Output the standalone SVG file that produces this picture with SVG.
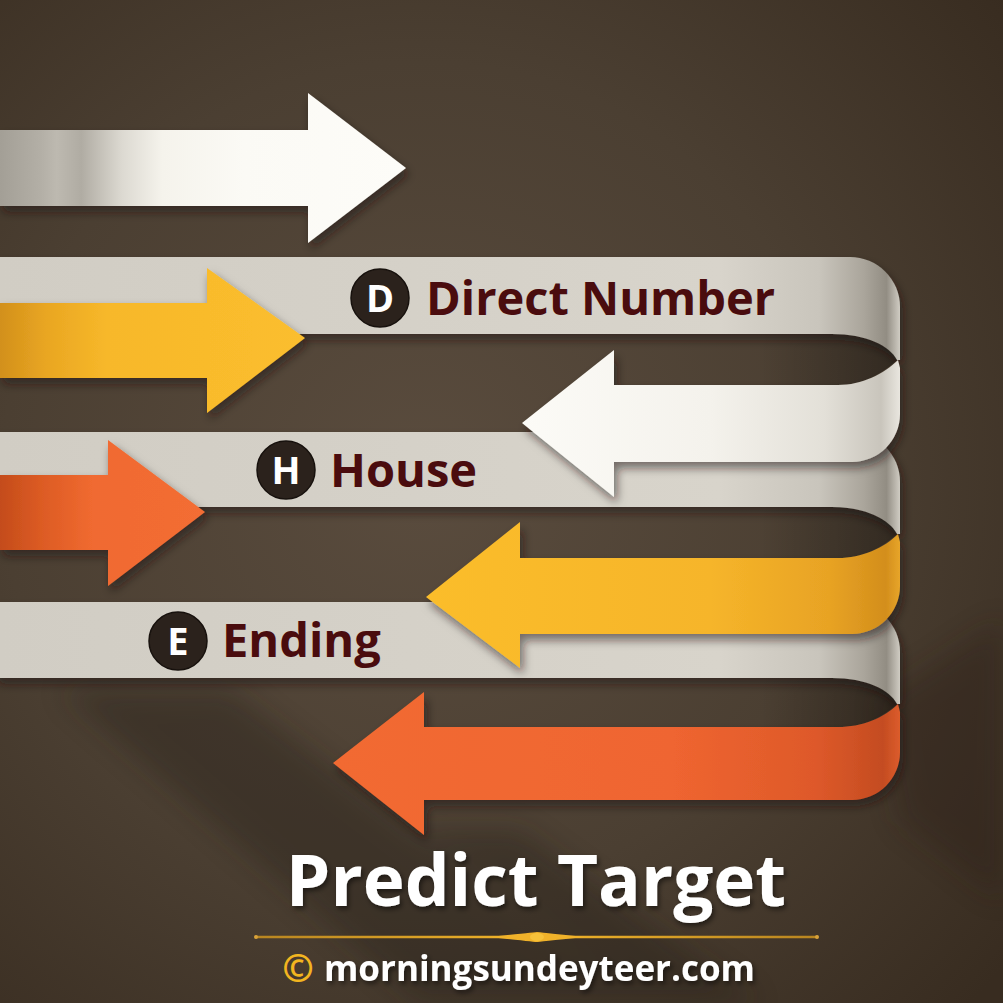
<svg xmlns="http://www.w3.org/2000/svg" width="1003" height="1003" viewBox="0 0 1003 1003">
<style>
.lbl{font-family:"Open Sans","Noto Sans","Liberation Sans",sans-serif;font-weight:700;font-size:47px;fill:#4a0c0e}
.badge{fill:#2b221c;stroke:#17110d;stroke-width:1.5}
.badgeT{font-family:"Open Sans","Noto Sans","Liberation Sans",sans-serif;font-weight:700;font-size:38px;fill:#ffffff;text-anchor:middle}
.band{filter:url(#sh)}
.hole{fill:url(#holeG)}
.ttl{font-family:"Open Sans","Noto Sans","Liberation Sans",sans-serif;font-weight:700;fill:#ffffff}
</style>
<defs>
<radialGradient id="bg" cx="420" cy="480" r="760" gradientUnits="userSpaceOnUse">
<stop offset="0" stop-color="#5a4c3e"/>
<stop offset="0.55" stop-color="#4b3f32"/>
<stop offset="1" stop-color="#382c20"/>
</radialGradient>
<filter id="sh" x="-10%" y="-20%" width="130%" height="160%">
<feDropShadow dx="3" dy="6" stdDeviation="5" flood-color="#1c140d" flood-opacity="0.55"/>
</filter>
<filter id="blur" x="-20%" y="-20%" width="140%" height="140%">
<feGaussianBlur stdDeviation="14"/>
</filter>
<filter id="tsh" x="-10%" y="-20%" width="120%" height="150%">
<feDropShadow dx="2" dy="3" stdDeviation="2.5" flood-color="#000" flood-opacity="0.5"/>
</filter>
<linearGradient id="whiteTop" x1="0" y1="0" x2="406" y2="0" gradientUnits="userSpaceOnUse">
<stop offset="0" stop-color="#a39f96"/>
<stop offset="0.1" stop-color="#b3afa6"/>
<stop offset="0.14" stop-color="#bdb9b0"/>
<stop offset="0.2" stop-color="#b0aca3"/>
<stop offset="0.3" stop-color="#dcd9d1"/>
<stop offset="0.4" stop-color="#f5f3ec"/>
<stop offset="0.6" stop-color="#fbfaf5"/>
<stop offset="1" stop-color="#fdfcf8"/>
</linearGradient>
<linearGradient id="yelIn" x1="0" y1="0" x2="305" y2="0" gradientUnits="userSpaceOnUse">
<stop offset="0" stop-color="#d2901c"/>
<stop offset="0.15" stop-color="#e9a622"/>
<stop offset="0.35" stop-color="#f7b82a"/>
<stop offset="1" stop-color="#fbbe2e"/>
</linearGradient>
<linearGradient id="oraIn" x1="0" y1="0" x2="205" y2="0" gradientUnits="userSpaceOnUse">
<stop offset="0" stop-color="#c44c1b"/>
<stop offset="0.2" stop-color="#dc5b24"/>
<stop offset="0.45" stop-color="#f06a30"/>
<stop offset="1" stop-color="#f36d34"/>
</linearGradient>
<linearGradient id="bandG" x1="0" y1="0" x2="900" y2="0" gradientUnits="userSpaceOnUse">
<stop offset="0" stop-color="#d1cdc4"/>
<stop offset="0.8" stop-color="#d8d4cb"/>
<stop offset="0.91" stop-color="#c9c5bc"/>
<stop offset="0.96" stop-color="#aaa59b"/>
<stop offset="0.985" stop-color="#928d83"/>
<stop offset="1" stop-color="#d0ccc3"/>
</linearGradient>
<linearGradient id="holeG" x1="760" y1="0" x2="897" y2="0" gradientUnits="userSpaceOnUse">
<stop offset="0" stop-color="#000" stop-opacity="0"/>
<stop offset="1" stop-color="#000" stop-opacity="0.3"/>
</linearGradient>
<linearGradient id="whiteRet" x1="520" y1="0" x2="900" y2="0" gradientUnits="userSpaceOnUse">
<stop offset="0" stop-color="#fcfbf7"/>
<stop offset="0.5" stop-color="#f4f2ec"/>
<stop offset="0.8" stop-color="#e3e0d8"/>
<stop offset="0.95" stop-color="#c9c5bc"/>
<stop offset="1" stop-color="#e9e6df"/>
</linearGradient>
<linearGradient id="yelRet" x1="426" y1="0" x2="900" y2="0" gradientUnits="userSpaceOnUse">
<stop offset="0" stop-color="#fbbd2c"/>
<stop offset="0.6" stop-color="#f6b52a"/>
<stop offset="0.85" stop-color="#e8a324"/>
<stop offset="0.97" stop-color="#d38e1c"/>
<stop offset="1" stop-color="#e7a52a"/>
</linearGradient>
<linearGradient id="oraRet" x1="333" y1="0" x2="900" y2="0" gradientUnits="userSpaceOnUse">
<stop offset="0" stop-color="#f26a31"/>
<stop offset="0.6" stop-color="#ef6530"/>
<stop offset="0.85" stop-color="#de592a"/>
<stop offset="0.97" stop-color="#c44c21"/>
<stop offset="1" stop-color="#dc5c2c"/>
</linearGradient>
<linearGradient id="gold" x1="255" y1="0" x2="818" y2="0" gradientUnits="userSpaceOnUse">
<stop offset="0" stop-color="#b88520"/>
<stop offset="0.5" stop-color="#f2b52a"/>
<stop offset="1" stop-color="#b88520"/>
</linearGradient>
</defs>

<rect width="1003" height="1003" fill="url(#bg)"/>

<g id="background-shadows" opacity="0.35" filter="url(#blur)">
<polygon points="60,690 230,690 640,1003 420,1003" fill="#241a12"/>
<polygon points="420,830 520,830 760,1003 640,1003" fill="#241a12"/>
<polygon points="880,700 1003,620 1003,900 900,820" fill="#2a1f15"/>
</g>

<g id="white-arrow" filter="url(#sh)">
<polygon points="0,130 308,130 308,93 406,168 308,243 308,206 0,206" fill="url(#whiteTop)"/>
</g>

<g id="loop-e">
<path class="band" d="M-5,602 H850 A50,50 0 0 1 900,652 V704 L897,704 C890,690 866,678 832,678 H-5 Z" fill="url(#bandG)"/>
<path class="hole" d="M760,678 H832 C866,678 890,690 897,704 C882,718 862,727 838,727 H760 Z"/>
<path filter="url(#sh)" d="M424,727 H838 C862,727 884,718 898,704 L900,712 V752 A48,48 0 0 1 852,800 H424 V835 L333,763 L424,692 Z" fill="url(#oraRet)"/>
</g>

<g id="loop-h">
<path class="band" d="M-5,432 H850 A50,50 0 0 1 900,482 V534 L897,534 C890,520 866,507 832,507 H-5 Z" fill="url(#bandG)"/>
<path class="hole" d="M760,507 H832 C866,507 890,520 897,534 C882,548 862,558 838,558 H760 Z"/>
<path filter="url(#sh)" d="M520,558 H838 C862,558 884,548 898,534 L900,542 V586 A48,48 0 0 1 852,634 H520 V668 L426,597 L520,522 Z" fill="url(#yelRet)"/>
</g>

<g id="loop-d">
<path class="band" d="M-5,257 H850 A50,50 0 0 1 900,307 V360 L897,360 C890,346 866,334 832,334 H-5 Z" fill="url(#bandG)"/>
<path class="hole" d="M760,334 H832 C866,334 890,346 897,360 C882,374 862,385 838,385 H760 Z"/>
<path filter="url(#sh)" d="M614,385 H838 C862,385 884,374 898,360 L900,368 V414 A48,48 0 0 1 852,462 H614 V497 L522,423 L614,350 Z" fill="url(#whiteRet)"/>
</g>

<g id="label-d">
<circle class="badge" cx="380" cy="298" r="29"/>
<text class="badgeT" x="380" y="312">D</text>
<text class="lbl" x="426" y="315">Direct Number</text>
</g>
<g id="label-h">
<circle class="badge" cx="286" cy="470" r="29"/>
<text class="badgeT" x="286" y="484">H</text>
<text class="lbl" x="330" y="487">House</text>
</g>
<g id="label-e">
<circle class="badge" cx="178" cy="641" r="29"/>
<text class="badgeT" x="178" y="655">E</text>
<text class="lbl" x="222" y="657">Ending</text>
</g>

<g id="yellow-arrow" filter="url(#sh)">
<polygon points="0,303 207,303 207,268 305,338 207,413 207,378 0,378" fill="url(#yelIn)"/>
</g>
<g id="orange-arrow" filter="url(#sh)">
<polygon points="0,475 108,475 108,440 205,512 108,586 108,550 0,550" fill="url(#oraIn)"/>
</g>

<g id="title">
<text class="ttl" x="536" y="906" font-size="71" text-anchor="middle" filter="url(#tsh)">Predict Target</text>
<line x1="255" y1="937" x2="818" y2="937" stroke="url(#gold)" stroke-width="2.5"/>
<path d="M490,937 Q537,932 537,932 Q537,932 584,937 Q537,942 537,942 Q537,942 490,937 Z" fill="#f0b22a"/>
<ellipse cx="537" cy="937" rx="7" ry="4" fill="#f6c13a"/>
<circle cx="256" cy="937" r="2" fill="#d9a23a"/>
<circle cx="817" cy="937" r="2" fill="#d9a23a"/>
<text class="ttl" x="298" y="982" font-size="38" text-anchor="middle" style="fill:#f2b520">©</text>
<text class="ttl" x="324" y="981" font-size="35" filter="url(#tsh)">morningsundeyteer.com</text>
</g>
</svg>
